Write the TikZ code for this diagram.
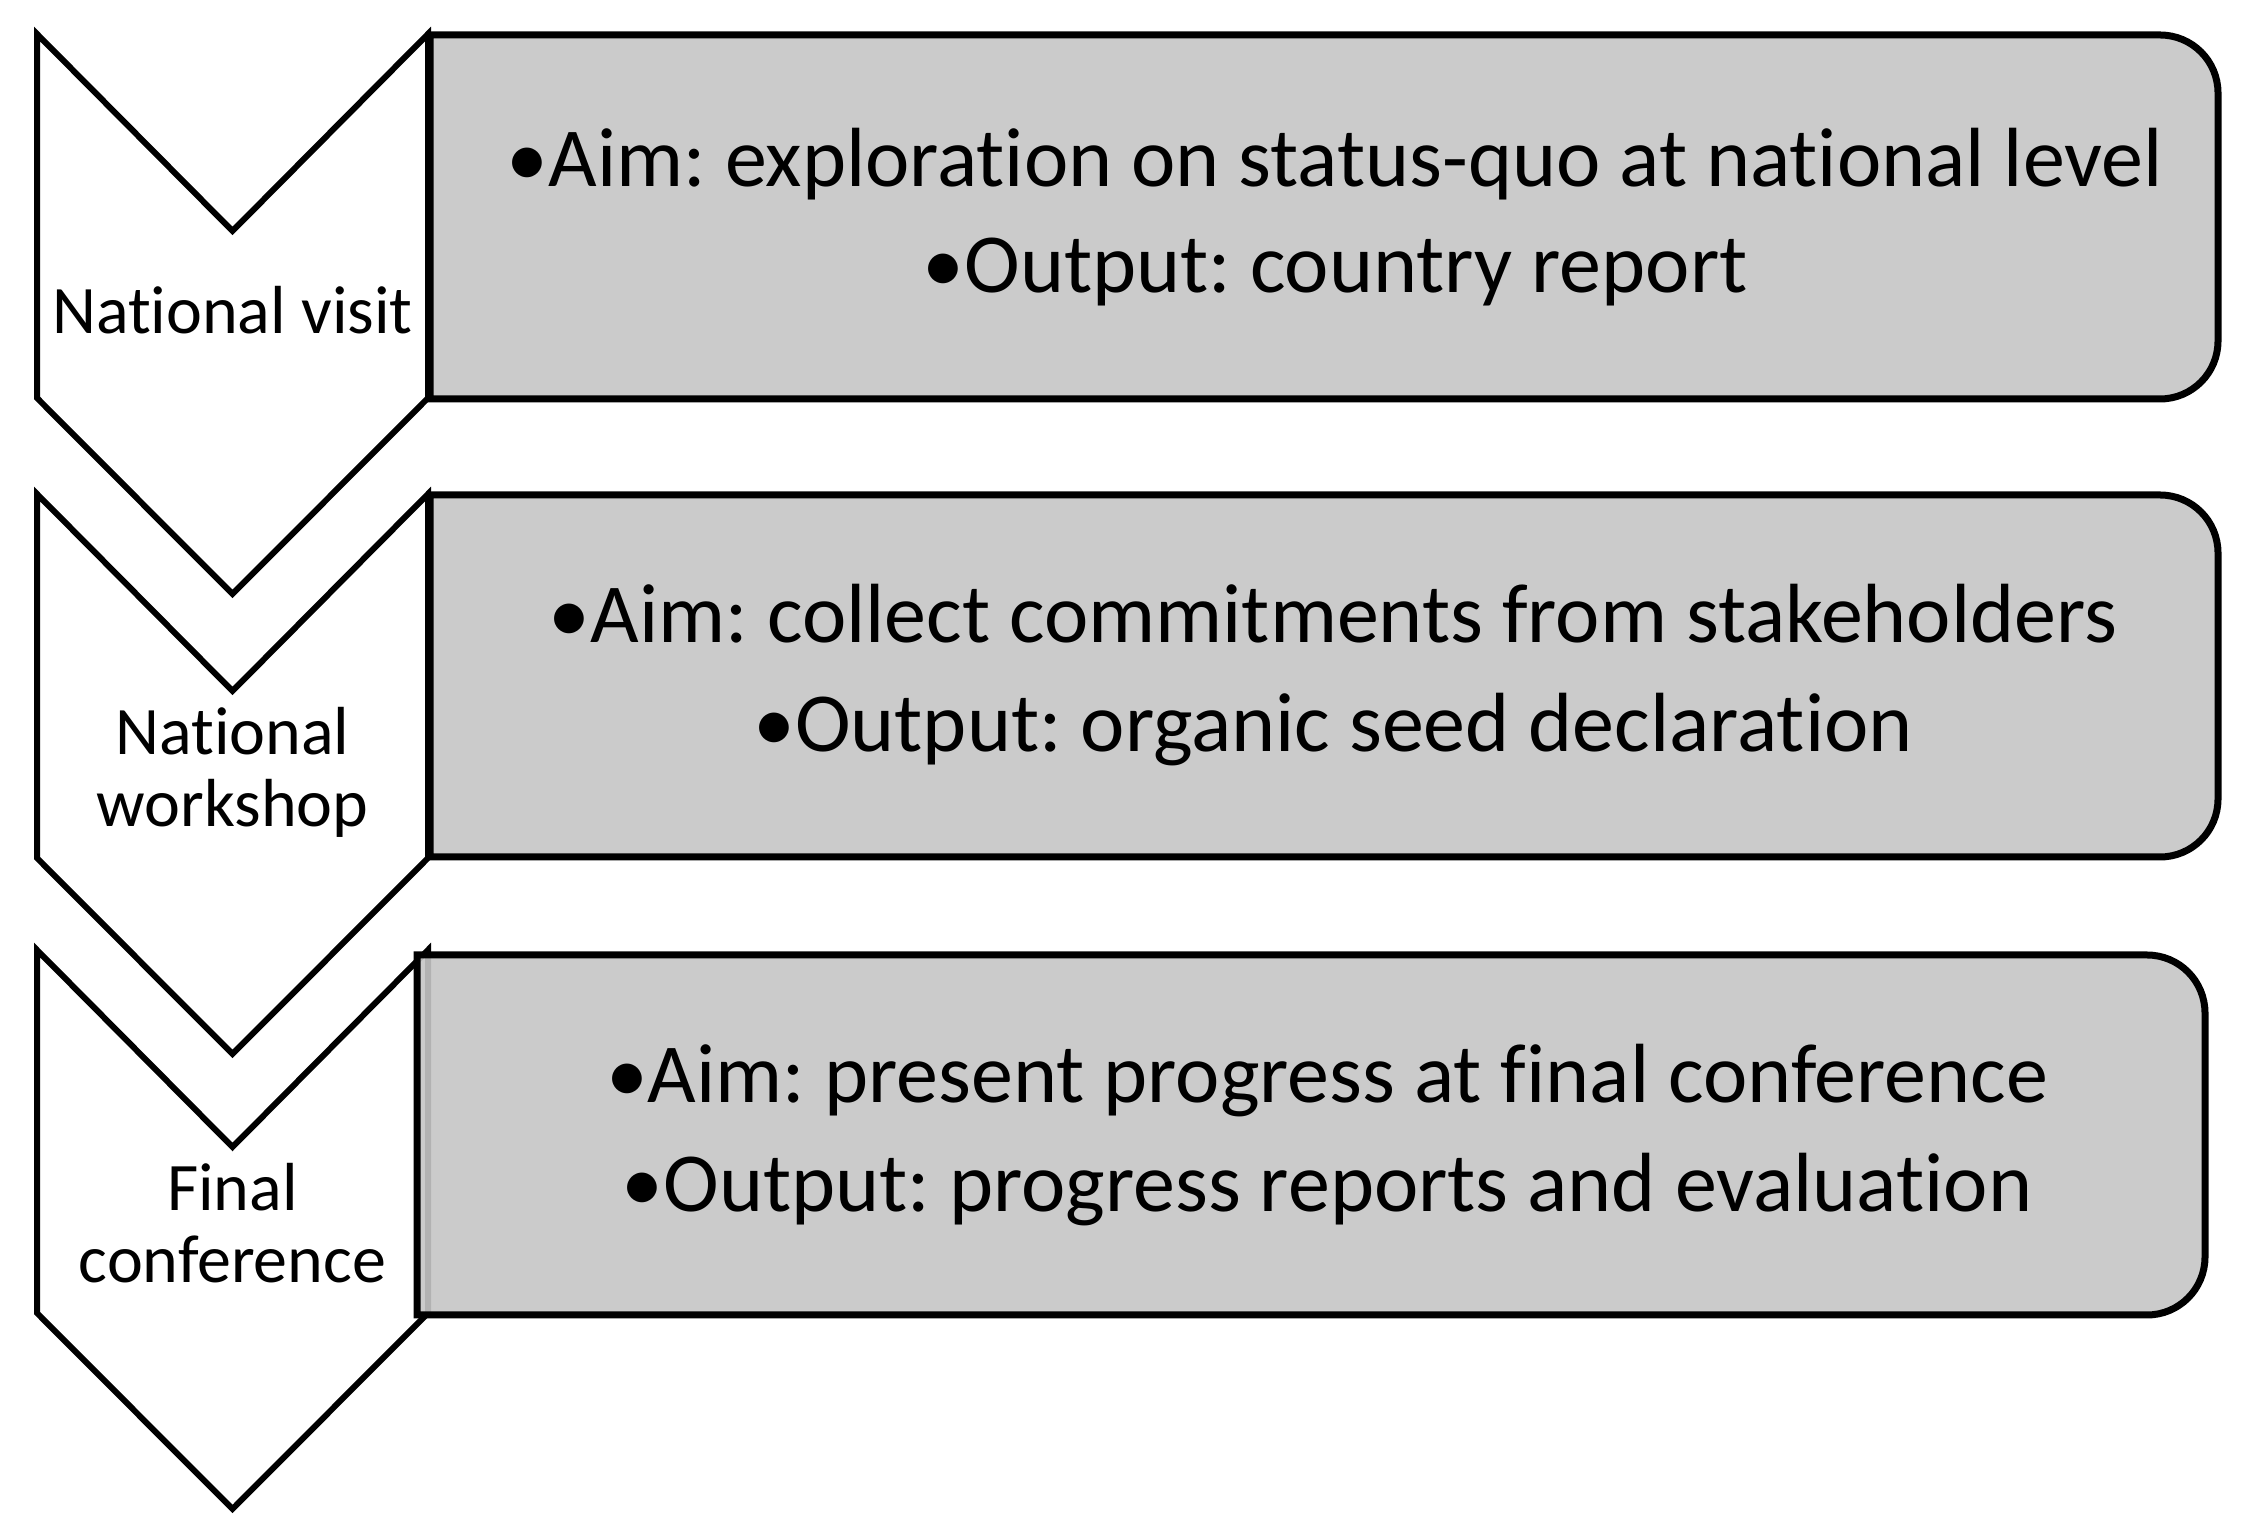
\documentclass[tikz,border=0pt]{standalone}
\usepackage{fontspec}
\setmainfont{Carlito}[Ligatures={NoCommon}]
\frenchspacing
\definecolor{boxgray}{RGB}{198,198,198}
\tikzset{
  chev/.style={draw=black, fill=white, line width=6pt, line join=miter},
  infobox/.style={draw=black, fill=boxgray, fill opacity=0.9, draw opacity=1, line width=7pt, line join=miter},
  lab/.style={inner sep=0pt, anchor=base, font=\fontsize{68}{72}\selectfont, text=black},
  btext/.style={inner sep=0pt, anchor=base, font=\fontsize{84}{97}\selectfont, text=black}
}
\begin{document}
\begin{tikzpicture}[x=1pt, y=1pt]
\useasboundingbox (0,0) rectangle (2241,1526);
\fill[white] (0,0) rectangle (2241,1526);
% chevrons
\draw[chev] (37,1492) -- (232.5,1295) -- (428,1492) -- (428,1128) -- (232.5,932) -- (37,1128) -- cycle;
\draw[chev] (37,1032) -- (232.5,835) -- (428,1032) -- (428,668) -- (232.5,472) -- (37,668) -- cycle;
\draw[chev] (37,576) -- (232.5,379) -- (428,576) -- (428,213) -- (232.5,17) -- (37,213) -- cycle;
% boxes
\draw[infobox] (430,1491) -- (2160,1491) arc[start angle=90, end angle=0, radius=58pt] -- (2218,1185) arc[start angle=0, end angle=-90, radius=58pt] -- (430,1127) -- cycle;
\draw[infobox] (430,1031) -- (2160,1031) arc[start angle=90, end angle=0, radius=58pt] -- (2218,727) arc[start angle=0, end angle=-90, radius=58pt] -- (430,669) -- cycle;
\draw[infobox] (417,571) -- (2147,571) arc[start angle=90, end angle=0, radius=58pt] -- (2205,269) arc[start angle=0, end angle=-90, radius=58pt] -- (417,211) -- cycle;
% chevron labels
\node[lab] (lab1) at (232.5,1192) {National visit};
\node[lab] (lab2a) at (232.5,771) {National};
\node[lab] (lab2b) at (232.5,699) {workshop};
\node[lab] (lab3a) at (232.5,315.5) {Final};
\node[lab] (lab3b) at (232.5,243.5) {conference};
% box texts
\node[btext] (t1a) at (1335,1339) {•Aim: exploration on status-quo at national level};
\node[btext] (t1b) at (1335,1233) {•Output: country report};
\node[btext] (t2a) at (1333,883) {•Aim: collect commitments from stakeholders};
\node[btext] (t2b) at (1333,774) {•Output: organic seed declaration};
\node[btext] (t3a) at (1327,423) {•Aim: present progress at final conference};
\node[btext] (t3b) at (1327,314) {•Output: progress reports and evaluation};
\end{tikzpicture}
\end{document}
